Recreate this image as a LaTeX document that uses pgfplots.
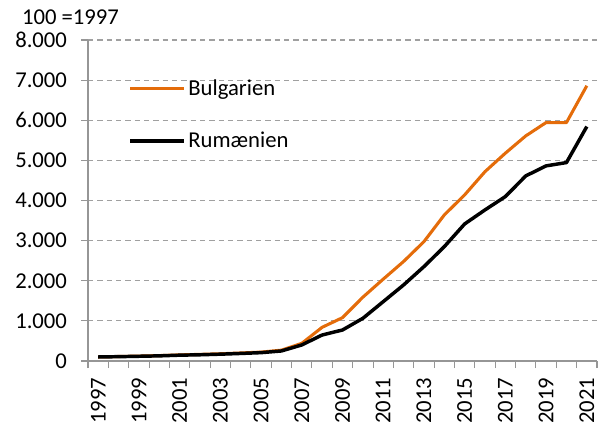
\documentclass[border=0pt]{standalone}
\usepackage{fontspec}
\setmainfont{Carlito}
\usepackage{pgfplots}
\pgfplotsset{compat=1.18}
\definecolor{bgorange}{RGB}{228,108,10}
\definecolor{gridgray}{RGB}{160,160,160}
\definecolor{axgray}{RGB}{150,150,150}
\begin{document}
\begin{tikzpicture}[x=1pt,y=1pt]
\begin{axis}[
  scale only axis,
  width=381.75pt, height=240.75pt,
  xmin=1996.5, xmax=2021.5,
  ymin=0, ymax=8000,
  clip=false,
  axis lines*=left,
  axis line style={axgray, line width=0.8pt},
  xtick={1996.5,1997.5,...,2021.5},
  xticklabels={},
  extra x ticks={1997,1999,...,2021},
  extra x tick labels={1997,1999,2001,2003,2005,2007,2009,2011,2013,2015,2017,2019,2021},
  extra x tick style={major tick length=0pt},
  xticklabel style={rotate=90, anchor=east},
  xticklabel shift=9pt,
  ytick={0,1000,...,8000},
  yticklabel style={/pgf/number format/fixed, /pgf/number format/1000 sep={.}},
  yticklabel shift=7pt,
  /pgf/number format/assume math mode=true,
  tick style={axgray, line width=0.8pt},
  tick align=outside,
  major tick length=5.25pt,
  ymajorgrids=true,
  major grid style={gridgray, dashed, line width=0.8pt, dash pattern=on 4pt off 3pt},
  tick label style={font=\fontsize{17}{19}\selectfont, black},
  xtick pos=bottom, ytick pos=left,
  legend style={at={(rel axis cs:0.0786,0.885)}, anchor=north west, draw=none, fill=none,
    font=\fontsize{17}{19}\selectfont, row sep=22pt, inner sep=0pt,
    cells={anchor=west}},
  legend image code/.code={\draw[#1] (0pt,0pt) -- (40.5pt,0pt);},
  legend cell align=left,
]
\addplot[bgorange, line width=2.3pt, line join=round] coordinates {
(1997,100) (1998,112) (1999,122) (2000,135) (2001,152) (2002,165) (2003,180) (2004,200) (2005,222) (2006,270)
(2007,440) (2008,840) (2009,1080) (2010,1590) (2011,2040) (2012,2480) (2013,2975) (2014,3640) (2015,4140)
(2016,4720) (2017,5180) (2018,5610) (2019,5943) (2020,5943) (2021,6860)};
\addlegendentry{Bulgarien}
\addplot[black, line width=2.6pt, line join=round] coordinates {
(1997,100) (1998,108) (1999,118) (2000,128) (2001,145) (2002,155) (2003,170) (2004,188) (2005,208) (2006,250)
(2007,400) (2008,648) (2009,773) (2010,1064) (2011,1479) (2012,1895) (2013,2352) (2014,2850) (2015,3416)
(2016,3766) (2017,4098) (2018,4613) (2019,4863) (2020,4945) (2021,5843)};
\addlegendentry{Rumænien}
\node[anchor=base west, font=\fontsize{17}{19}\selectfont] at (rel axis cs:0,1) [xshift=-53pt, yshift=12pt] {100 =1997};
\end{axis}
\path (current axis.south west) ++(-66pt,-48pt) coordinate (bbA);
\path (current axis.north east) ++(4.5pt,30pt) coordinate (bbB);
\pgfresetboundingbox
\path[use as bounding box] (bbA) rectangle (bbB);
\end{tikzpicture}
\end{document}
